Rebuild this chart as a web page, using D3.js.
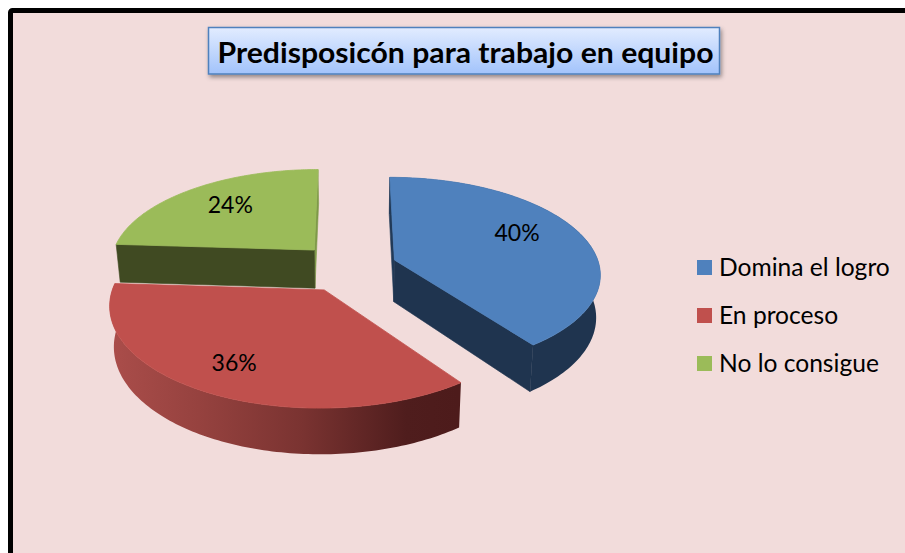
<!DOCTYPE html>
<html><head><meta charset="utf-8">
<script src="https://d3js.org/d3.v7.min.js"></script>
<style>html,body{margin:0;padding:0;background:#fff;overflow:hidden}svg{display:block}</style>
</head><body><svg id="c" width="905" height="553"></svg>
<script>
const titleText = "Predisposicón para trabajo en equipo";
const categories = ["Domina el logro", "En proceso", "No lo consigue"];
const values = [40, 36, 24];
const labels = ["40%", "36%", "24%"];
const topColors = ["#4f81bd", "#c0504d", "#9bbb59"];
const cutColors = ["#1f344f", "#4d1b1b", "#404a22"];
const backCutColors = ["#223a58", "#4d1b1b", "#7f9a49"];

// slice explosion and label placement (fractions of the pie radius, degrees)
const explode = [0.204, 0.277, 0.235];
const nudgeX = [0, -2.5, -8.5];
const depths = [42, 38.5, 39];
const labelAngle = [65, 210, 319];
const labelRadius = [0.70, 0.75, 0.70];

const R = 205, RY = 95.3, K = 0.134, VP = 355, CY = 266, SHRINK = 0.983;
const svg = d3.select("#c");
const defs = svg.append("defs");

const tg = defs.append("linearGradient").attr("id","tg").attr("x1",0).attr("y1",0).attr("x2",0).attr("y2",1);
tg.append("stop").attr("offset",0).attr("stop-color","#e2ecff");
tg.append("stop").attr("offset",1).attr("stop-color","#a2c3fb");
const fl = defs.append("filter").attr("id","sh").attr("x","-5%").attr("y","-20%").attr("width","110%").attr("height","150%");
fl.append("feDropShadow").attr("dx",1.5).attr("dy",2.5).attr("stdDeviation",2).attr("flood-color","#000").attr("flood-opacity",0.4);

const rimG = defs.append("linearGradient").attr("id","rim").attr("gradientUnits","userSpaceOnUse")
  .attr("x1",112).attr("y1",0).attr("x2",458).attr("y2",0);
[[0,"#aa4d4a"],[0.25,"#96423f"],[0.55,"#7a3331"],[0.85,"#4f1d1d"],[1,"#4d1b1b"]].forEach(([o,c])=>
  rimG.append("stop").attr("offset",o).attr("stop-color",c));

// background + frame
svg.append("rect").attr("x",10.5).attr("y",10.5).attr("width",1000).attr("height",1000).attr("rx",2)
  .attr("fill","#f2dcdb").attr("stroke","#000").attr("stroke-width",5);

const pie = d3.pie().value(d=>d).sort(null).startAngle(0).endAngle(2*Math.PI);
const arcs = pie(values);
const line = d3.line().curve(d3.curveLinear);

function project(i, theta, r){
  const u = r*Math.sin(theta), v = -r*Math.cos(theta);
  const mid = arcs[i].startAngle + (arcs[i].endAngle-arcs[i].startAngle)/2;
  const eu = explode[i]*Math.sin(mid), ev = -explode[i]*Math.cos(mid);
  const V = v+ev, s = 1/(1-K*V);
  return {x: VP + R*(u+eu)*s + nudgeX[i], y: CY + RY*V*s, s, i};
}
const upper = p=>[p.x,p.y];
const lower = p=>[VP+(p.x-VP)*SHRINK, p.y+depths[p.i]*p.s];

const order = [2,0,1];
order.forEach(i=>{
  const a = arcs[i];
  const thetas = d3.range(0,121).map(k=>a.startAngle+(a.endAngle-a.startAngle)*k/120);
  const edge = thetas.map(t=>project(i,t,1));
  const apex = project(i,0,0);
  const g = svg.append("g");
  const first = edge[0], last = edge[edge.length-1];
  const face3d = (pts, col)=>g.append("path").attr("d",line(pts)+"Z").attr("fill",col).attr("stroke",col).attr("stroke-width",0.6);
  // outer rim
  if(i!==2){
    const rim = edge.map(upper).concat(edge.slice().reverse().map(lower));
    g.append("path").attr("d",line(rim)+"Z").attr("fill", i===1?"url(#rim)":cutColors[i]);
  }
  // cut faces
  const startCut = [upper(apex),upper(first),lower(first),lower(apex)];
  const endCut = [upper(apex),upper(last),lower(last),lower(apex)];
  if(i===0){ face3d(startCut,backCutColors[i]); face3d(endCut,cutColors[i]); }
  if(i===2){ face3d(endCut,backCutColors[i]); face3d(startCut,cutColors[i]); }
  // top face
  const face = [upper(apex)].concat(edge.map(upper));
  g.append("path").attr("d",line(face)+"Z").attr("fill",topColors[i]).attr("stroke",topColors[i]).attr("stroke-width",0.8);
});

// percentage labels
const font = "Lato, sans-serif";
labels.forEach((t,i)=>{
  const p = project(i, labelAngle[i]*Math.PI/180, labelRadius[i]);
  svg.append("text").attr("x",p.x).attr("y",p.y+8).attr("text-anchor","middle")
    .attr("font-family",font).attr("font-size",23).attr("fill","#000").text(t);
});

// title
svg.append("rect").attr("x",208.5).attr("y",27.5).attr("width",511).attr("height",46.5)
  .attr("fill","url(#tg)").attr("stroke","#4f81bd").attr("stroke-width",1.5).attr("filter","url(#sh)");
svg.append("text").attr("x",465.5).attr("y",63).attr("text-anchor","middle")
  .attr("font-family",font).attr("font-weight",700).attr("font-size",28)
  .attr("textLength",496).attr("lengthAdjust","spacingAndGlyphs").attr("fill","#000").text(titleText);

// legend
const ly = d3.scalePoint().domain(categories).range([267.5,363.5]);
const color = d3.scaleOrdinal().domain(categories).range(topColors);
const legend = svg.append("g").selectAll("g").data(categories).join("g");
legend.append("rect").attr("x",697).attr("y",d=>ly(d)-7.5).attr("width",15).attr("height",15).attr("fill",d=>color(d));
legend.append("text").attr("x",719).attr("y",d=>ly(d)+8.5).attr("font-family",font).attr("font-size",24.6).attr("fill","#000").text(d=>d);
</script></body></html>
